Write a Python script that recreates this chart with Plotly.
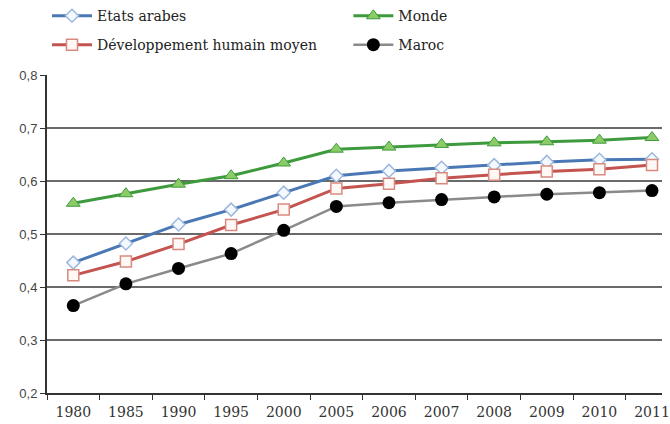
import plotly.graph_objects as go

years = ["1980", "1985", "1990", "1995", "2000", "2005", "2006",
         "2007", "2008", "2009", "2010", "2011"]

etats_arabes = [0.446, 0.482, 0.518, 0.546, 0.578, 0.610, 0.619,
                0.625, 0.630, 0.636, 0.640, 0.641]
monde = [0.558, 0.576, 0.594, 0.610, 0.634, 0.660, 0.664,
         0.669, 0.672, 0.674, 0.677, 0.682]
dh_moyen = [0.422, 0.448, 0.481, 0.517, 0.546, 0.586, 0.595,
            0.605, 0.612, 0.618, 0.622, 0.630]
maroc = [0.365, 0.406, 0.435, 0.463, 0.507, 0.552, 0.559,
         0.565, 0.570, 0.575, 0.578, 0.582]

y_ticks = [0.2, 0.3, 0.4, 0.5, 0.6, 0.7, 0.8]

serif = "DejaVu Serif"
sans = "Liberation Sans"

fig = go.Figure()

# each series gets its own legend box so the 2x2 key can be placed freely
fig.add_trace(go.Scatter(
    x=years, y=etats_arabes, name="Etats arabes", mode="lines+markers",
    line=dict(color="#4a78b5", width=3),
    marker=dict(symbol="diamond", size=10, color="#f4f8ff",
                line=dict(color="#9db8dd", width=1.5)),
    legend="legend",
))
fig.add_trace(go.Scatter(
    x=years, y=monde, name="Monde", mode="lines+markers",
    line=dict(color="#3d9a3d", width=3),
    marker=dict(symbol="triangle-up", size=12, color="#8ccc66",
                line=dict(color="#3d9a3d", width=1)),
    legend="legend3",
))
fig.add_trace(go.Scatter(
    x=years, y=dh_moyen, name="Développement humain moyen", mode="lines+markers",
    line=dict(color="#c45450", width=3),
    marker=dict(symbol="square", size=11, color="#fff8f4",
                line=dict(color="#d98a80", width=1.5)),
    legend="legend2",
))
fig.add_trace(go.Scatter(
    x=years, y=maroc, name="Maroc", mode="lines+markers",
    line=dict(color="#8a8a8a", width=2.5),
    marker=dict(symbol="circle", size=13, color="#000000"),
    legend="legend4",
))

legend_common = dict(
    orientation="h", xanchor="left", yanchor="middle",
    font=dict(family=serif, size=14, color="#222"),
    itemwidth=40,
    bgcolor="rgba(0,0,0,0)", borderwidth=0,
)

fig.update_layout(
    width=670, height=424,
    margin=dict(l=47, r=0, t=74, b=31),
    paper_bgcolor="white", plot_bgcolor="white",
    separators=", ",
    showlegend=True,
    legend=dict(x=0.0, y=1.185, **legend_common),
    legend2=dict(x=0.0, y=1.094, **legend_common),
    legend3=dict(x=0.49, y=1.185, **legend_common),
    legend4=dict(x=0.49, y=1.094, **legend_common),
    xaxis=dict(
        type="category", range=[-0.5, 11.19],
        tickson="boundaries", ticks="outside", ticklen=5,
        tickcolor="#333", showgrid=False,
        showline=True, linecolor="#333", linewidth=1.5,
        ticklabelstandoff=5,
        tickfont=dict(family=serif, size=14, color="#333"),
    ),
    yaxis=dict(
        range=[0.2, 0.8], tickvals=y_ticks, tickformat=".1f",
        ticks="outside", ticklen=5, tickcolor="#333",
        showline=True, linecolor="#333", linewidth=2,
        gridcolor="#6a6a6a", gridwidth=1.5, zeroline=False,
        tickfont=dict(family=sans, size=13, color="#444"),
    ),
)

fig.write_html("out.html")
